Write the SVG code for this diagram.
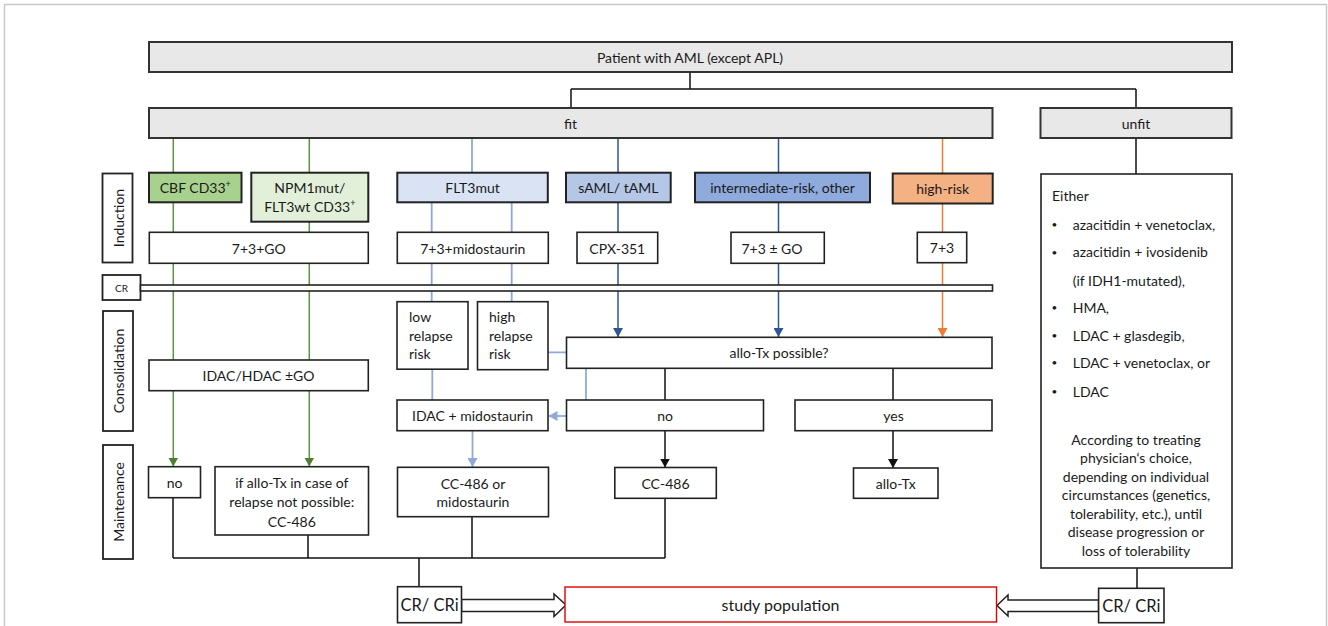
<svg xmlns="http://www.w3.org/2000/svg" width="1328" height="626" viewBox="0 0 1328 626">
<style>
.bx{fill:#fff;stroke:#222;stroke-width:1.6}
.gr{fill:#e8e8e8;stroke:#333;stroke-width:2}
.cl{stroke:#222;stroke-width:1.8}
.t{font-family:Lato,"Open Sans",sans-serif;font-size:14px;fill:#1a1a1a;text-anchor:middle;dominant-baseline:central}
.l{text-anchor:start}
.bu{font-size:10px}
.k{fill:none;stroke:#111;stroke-width:1.5}
.g{fill:none;stroke:#5e9140;stroke-width:1.5}
.lb{fill:none;stroke:#8eaadb;stroke-width:1.8}
.db{fill:none;stroke:#2f5597;stroke-width:1.5}
.or{fill:none;stroke:#ed7d31;stroke-width:1.5}
.blk{fill:#fff;stroke:#222;stroke-width:1.5}
</style>
<defs>
<marker id="ak" markerUnits="userSpaceOnUse" markerWidth="9" markerHeight="10" refX="9" refY="5" orient="auto"><path d="M0,0 L9,5 L0,10 z" fill="#111"/></marker>
<marker id="ag" markerUnits="userSpaceOnUse" markerWidth="9" markerHeight="10" refX="9" refY="5" orient="auto"><path d="M0,0 L9,5 L0,10 z" fill="#4f7f32"/></marker>
<marker id="alb" markerUnits="userSpaceOnUse" markerWidth="9" markerHeight="10" refX="9" refY="5" orient="auto"><path d="M0,0 L9,5 L0,10 z" fill="#8eaadb"/></marker>
<marker id="adb" markerUnits="userSpaceOnUse" markerWidth="9" markerHeight="10" refX="9" refY="5" orient="auto"><path d="M0,0 L9,5 L0,10 z" fill="#2f5597"/></marker>
<marker id="aor" markerUnits="userSpaceOnUse" markerWidth="9" markerHeight="10" refX="9" refY="5" orient="auto"><path d="M0,0 L9,5 L0,10 z" fill="#ed7d31"/></marker>
</defs>
<rect width="1328" height="626" fill="#fff"/>
<path d="M4.5 626 V4.5 H1326.5 V626" fill="none" stroke="#c8c8c8" stroke-width="1.5"/>

<g id="connectors">
<path class="k" d="M690 72 V89 M571 89 H1136 M571 89 V108 M1136 89 V108 M1136 138 V174"/>
<path class="g" d="M173.3 138 V466.5" marker-end="url(#ag)"/>
<path class="g" d="M309.3 138 V466.5" marker-end="url(#ag)"/>
<path class="lb" d="M472 138 V173 M431.7 202 V301.7 M511.7 202 V301.7 M432.3 369 V400 M548 352.3 H566.5 M586 368.3 V400"/>
<path class="lb" d="M566.5 416 H548.5" marker-end="url(#alb)"/>
<path class="lb" d="M472.5 430.7 V467" marker-end="url(#alb)"/>
<path class="db" d="M618 138 V337" marker-end="url(#adb)"/>
<path class="db" d="M778.5 138 V337" marker-end="url(#adb)"/>
<path class="or" d="M942.5 138 V337" marker-end="url(#aor)"/>
<path class="k" d="M665 368.3 V400 M893 368.3 V400"/>
<path class="k" d="M665 430.7 V467.5" marker-end="url(#ak)"/>
<path class="k" d="M893 430.7 V468" marker-end="url(#ak)"/>
<path class="k" d="M173 497.7 V558 M308 535 V558 M472 516.7 V558 M665 498.3 V558 M173 558 H665 M419 558 V586.7 M1137 568 V588.3"/>
<polygon class="blk" points="461.5,599.5 554,599.5 554,594 566,605 554,616.5 554,611.5 461.5,611.5"/>
<polygon class="blk" points="1098.6,600 1008,600 1008,595 997,605.5 1008,616 1008,611.5 1098.6,611.5"/>
</g>

<g id="n-top"><rect class="gr" x="149" y="42" width="1083" height="30"/><text class="t" x="690" y="57">Patient with AML (except APL)</text></g>
<g id="n-fit"><rect class="gr" x="149" y="108" width="843.5" height="30"/><text class="t" x="570.5" y="123">fit</text></g>
<g id="n-unfit"><rect class="gr" x="1040.5" y="108" width="191" height="30"/><text class="t" x="1136" y="123">unfit</text></g>

<g id="lbl-induction"><rect class="cl" fill="#fff" x="102.5" y="173.5" width="30" height="89"/><text class="t" transform="translate(118,218) rotate(-90)">Induction</text></g>
<g id="lbl-cr"><rect class="cl" fill="#fff" x="102.5" y="275" width="38" height="25"/><text class="t" x="121.5" y="287.5" style="font-size:10px">CR</text></g>
<g id="cr-bar"><rect fill="#fff" stroke="#222" stroke-width="1.6" x="140.5" y="285" width="852" height="6"/></g>
<g id="lbl-consolidation"><rect class="cl" fill="#fff" x="103" y="311" width="30" height="120"/><text class="t" transform="translate(118.5,371) rotate(-90)">Consolidation</text></g>
<g id="lbl-maintenance"><rect class="cl" fill="#fff" x="103" y="445" width="30" height="114"/><text class="t" transform="translate(118.5,502) rotate(-90)">Maintenance</text></g>

<g id="n-cbf"><rect x="149" y="172.7" width="92.5" height="29.6" fill="#a9d18e" stroke="#222" stroke-width="2"/><text class="t" x="195.3" y="187.5">CBF CD33<tspan dy="-5" style="font-size:9px">+</tspan></text></g>
<g id="n-npm1"><rect x="251.3" y="172.7" width="117" height="49" fill="#e2f0d9" stroke="#222" stroke-width="2"/><text class="t" x="309.8" y="187.7">NPM1mut/</text><text class="t" x="309.8" y="206.7">FLT3wt CD33<tspan dy="-5" style="font-size:9px">+</tspan></text></g>
<g id="n-flt3"><rect x="397.3" y="172.7" width="150.5" height="29.6" fill="#dae3f3" stroke="#222" stroke-width="2"/><text class="t" x="472.5" y="187.5">FLT3mut</text></g>
<g id="n-saml"><rect x="566" y="172.7" width="104.7" height="29.6" fill="#b4c7e7" stroke="#222" stroke-width="2"/><text class="t" x="618.3" y="187.5">sAML/ tAML</text></g>
<g id="n-inter"><rect x="695" y="172.7" width="175" height="29.6" fill="#8faadc" stroke="#222" stroke-width="2"/><text class="t" x="782.5" y="187.5">intermediate-risk, other</text></g>
<g id="n-high"><rect x="892.7" y="173.5" width="100" height="30" fill="#f4b183" stroke="#222" stroke-width="2"/><text class="t" x="942.7" y="188.5">high-risk</text></g>

<g id="n-73go"><rect class="bx" x="149.3" y="232.3" width="219" height="31"/><text class="t" x="258.8" y="248">7+3+GO</text></g>
<g id="n-73mido"><rect class="bx" x="397.3" y="232.3" width="151" height="31"/><text class="t" x="472.8" y="248">7+3+midostaurin</text></g>
<g id="n-cpx"><rect class="bx" x="577" y="232.3" width="80.7" height="31"/><text class="t" x="617.3" y="248">CPX-351</text></g>
<g id="n-73pmgo"><rect class="bx" x="731" y="232.3" width="93.3" height="31"/><text class="t" x="772" y="248">7+3 ± GO</text></g>
<g id="n-73"><rect class="bx" x="917.3" y="232.3" width="49.4" height="30.4"/><text class="t" x="942" y="247.5">7+3</text></g>

<g id="n-low"><rect class="bx" x="397" y="301.7" width="71" height="67.5"/><text class="t l" x="409" y="316.7">low</text><text class="t l" x="409" y="335.2">relapse</text><text class="t l" x="409" y="353.7">risk</text></g>
<g id="n-highrel"><rect class="bx" x="477.5" y="301.7" width="70.5" height="68"/><text class="t l" x="489" y="316.7">high</text><text class="t l" x="489" y="335.2">relapse</text><text class="t l" x="489" y="353.7">risk</text></g>
<g id="n-allopos"><rect class="bx" x="566.5" y="337.3" width="425.5" height="31"/><text class="t" x="779" y="352.8">allo-Tx possible?</text></g>
<g id="n-idachdac"><rect class="bx" x="149" y="360" width="219.3" height="30.7"/><text class="t" x="258.5" y="375.5">IDAC/HDAC ±GO</text></g>
<g id="n-idacmido"><rect class="bx" x="397" y="400" width="151" height="30.7"/><text class="t" x="472.5" y="415.5">IDAC + midostaurin</text></g>
<g id="n-no"><rect class="bx" x="566.5" y="400" width="197" height="30.7"/><text class="t" x="665" y="415.5">no</text></g>
<g id="n-yes"><rect class="bx" x="795" y="400" width="197" height="30.7"/><text class="t" x="893.5" y="415.5">yes</text></g>

<g id="n-mno"><rect class="bx" x="148.5" y="466.7" width="52" height="31"/><text class="t" x="174.5" y="482">no</text></g>
<g id="n-mallo"><rect class="bx" x="215" y="466.7" width="153.5" height="68.3"/><text class="t" x="291.8" y="482">if allo-Tx in case of</text><text class="t" x="291.8" y="501.5">relapse not possible:</text><text class="t" x="291.8" y="521">CC-486</text></g>
<g id="n-ccmido"><rect class="bx" x="397.5" y="467.3" width="151" height="49.4"/><text class="t" x="473" y="483.3">CC-486 or</text><text class="t" x="473" y="501.7">midostaurin</text></g>
<g id="n-cc486"><rect class="bx" x="614.8" y="467.5" width="101.5" height="30.8"/><text class="t" x="665.5" y="483">CC-486</text></g>
<g id="n-allotx"><rect class="bx" x="853.5" y="468" width="84.5" height="30.3"/><text class="t" x="895.7" y="483.3">allo-Tx</text></g>

<g id="n-unfit-detail"><rect class="bx" x="1041" y="174" width="191" height="394"/>
<text class="t l" x="1052" y="195.7">Either</text>
<text class="t bu" x="1054.5" y="224">•</text><text class="t l" x="1072.7" y="224">azacitidin + venetoclax,</text>
<text class="t bu" x="1054.5" y="251.7">•</text><text class="t l" x="1072.7" y="251.7">azacitidin + ivosidenib</text>
<text class="t l" x="1072.7" y="280">(if IDH1-mutated),</text>
<text class="t bu" x="1054.5" y="307.3">•</text><text class="t l" x="1072.7" y="307.3">HMA,</text>
<text class="t bu" x="1054.5" y="335">•</text><text class="t l" x="1072.7" y="335">LDAC + glasdegib,</text>
<text class="t bu" x="1054.5" y="362.3">•</text><text class="t l" x="1072.7" y="362.3">LDAC + venetoclax, or</text>
<text class="t bu" x="1054.5" y="391">•</text><text class="t l" x="1072.7" y="391">LDAC</text>
<text class="t" x="1136" y="439">According to treating</text>
<text class="t" x="1136" y="457.5">physician‘s choice,</text>
<text class="t" x="1136" y="476">depending on individual</text>
<text class="t" x="1136" y="494.5">circumstances (genetics,</text>
<text class="t" x="1136" y="513">tolerability, etc.), until</text>
<text class="t" x="1136" y="531.5">disease progression or</text>
<text class="t" x="1136" y="550">loss of tolerability</text>
</g>

<g id="n-crcri-left"><rect class="bx" x="397.5" y="586.7" width="64" height="36"/><text class="t" x="429.5" y="605" style="font-size:16.5px">CR/ CRi</text></g>
<g id="n-study"><rect x="565" y="587" width="431.5" height="35" fill="#fff" stroke="#e00000" stroke-width="1.4"/><text class="t" x="780.5" y="604.5" style="font-size:16px">study population</text></g>
<g id="n-crcri-right"><rect class="bx" x="1098.6" y="588.3" width="65.4" height="34.4"/><text class="t" x="1131.3" y="605.5" style="font-size:16.5px">CR/ CRi</text></g>
</svg>
